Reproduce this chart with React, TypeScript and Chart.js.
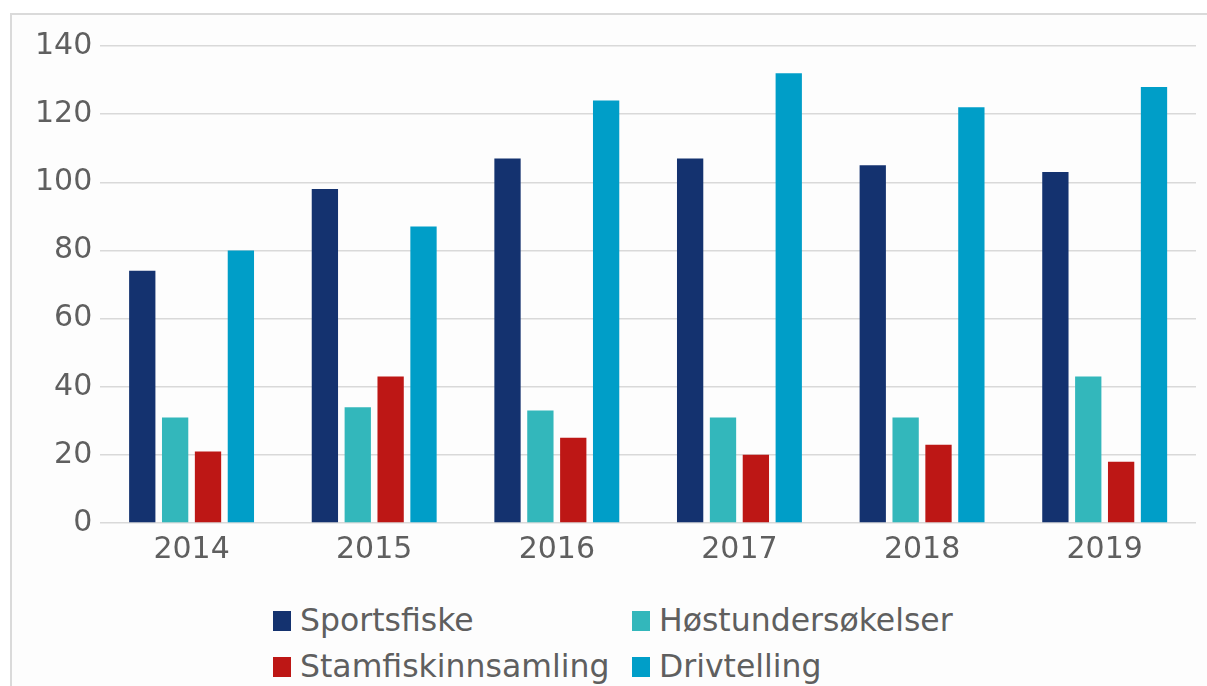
import React, { useEffect, useRef } from "react";
import { Chart, registerables } from "chart.js";

Chart.register(...registerables);

const years = ["2014", "2015", "2016", "2017", "2018", "2019"];
const sportsfiske = [74, 98, 107, 107, 105, 103];
const hostundersokelser = [31, 34, 33, 31, 31, 43];
const stamfiskinnsamling = [21, 43, 25, 20, 23, 18];
const drivtelling = [80, 87, 124, 132, 122, 128];
const yTicks = [0, 20, 40, 60, 80, 100, 120, 140];

const seriesNames = ["Sportsfiske", "Høstundersøkelser", "Stamfiskinnsamling", "Drivtelling"];
const seriesColors = ["#14326f", "#33b7bb", "#bd1715", "#009ec8"];

const FONT = "'DejaVu Sans', Verdana, sans-serif";
const TEXT = "#5f5f5f";

export default function App() {
  const ref = useRef<HTMLCanvasElement | null>(null);

  useEffect(() => {
    if (!ref.current) return;
    const values = [sportsfiske, hostundersokelser, stamfiskinnsamling, drivtelling];
    const chart = new Chart(ref.current, {
      type: "bar",
      data: {
        labels: years,
        datasets: seriesNames.map((name, i) => ({
          label: name,
          data: values[i],
          backgroundColor: seriesColors[i],
          borderWidth: 0,
          categoryPercentage: 0.72,
          barPercentage: 0.8,
        })),
      },
      options: {
        responsive: false,
        animation: false,
        layout: { padding: { left: 27, top: 46, right: 11, bottom: 5 } },
        plugins: {
          legend: { display: false },
          tooltip: { enabled: false },
        },
        scales: {
          x: {
            grid: { display: false, drawTicks: false },
            border: { display: false },
            ticks: {
              font: { family: FONT, size: 30 },
              color: TEXT,
              padding: 9,
            },
          },
          y: {
            min: 0,
            max: 140,
            afterBuildTicks: (axis: any) => {
              axis.ticks = yTicks.map((v) => ({ value: v }));
            },
            grid: { color: "#d9d9d9", lineWidth: 1.5, drawTicks: false },
            border: { display: false },
            ticks: {
              font: { family: FONT, size: 30 },
              color: TEXT,
              padding: 8,
            },
          },
        },
      },
    });
    return () => chart.destroy();
  }, []);

  const legendPos = [
    { box: [273, 611], text: [300, 602] },
    { box: [632, 611], text: [659, 602] },
    { box: [273, 657], text: [300, 648] },
    { box: [632, 657], text: [659, 648] },
  ];

  return (
    <div
      style={{
        position: "fixed",
        left: 0,
        top: 0,
        width: 1207,
        height: 686,
        overflow: "hidden",
        background: "#ffffff",
      }}
    >
      <div
        style={{
          position: "absolute",
          left: 10,
          top: 13,
          width: 1230,
          height: 720,
          border: "2px solid #dadada",
          background: "#fdfdfd",
        }}
      />
      <canvas
        ref={ref}
        width={1207}
        height={582}
        style={{ position: "absolute", left: 0, top: 0, width: 1207, height: 582 }}
      />
      {seriesNames.map((name, i) => (
        <React.Fragment key={name}>
          <div
            style={{
              position: "absolute",
              left: legendPos[i].box[0],
              top: legendPos[i].box[1],
              width: 18,
              height: 20,
              background: seriesColors[i],
            }}
          />
          <div
            style={{
              position: "absolute",
              left: legendPos[i].text[0],
              top: legendPos[i].text[1],
              fontFamily: FONT,
              fontSize: 31.5,
              lineHeight: "36px",
              color: TEXT,
              whiteSpace: "nowrap",
            }}
          >
            {name}
          </div>
        </React.Fragment>
      ))}
    </div>
  );
}
